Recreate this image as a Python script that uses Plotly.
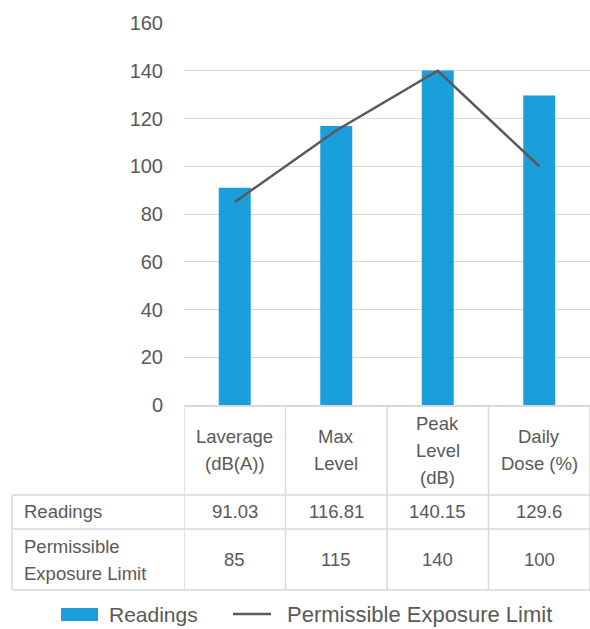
import plotly.graph_objects as go

# Noise survey: measured readings vs. permissible exposure limits
categories = ["Laverage<br>(dB(A))", "Max<br>Level", "Peak<br>Level<br>(dB)", "Daily<br>Dose (%)"]
readings = [91.03, 116.81, 140.15, 129.6]
limits = [85, 115, 140, 100]
readings_text = ["91.03", "116.81", "140.15", "129.6"]
limits_text = ["85", "115", "140", "100"]
series_names = ["Readings", "Permissible<br>Exposure Limit"]
y_ticks = [0, 20, 40, 60, 80, 100, 120, 140, 160]

W, H = 590, 629
L, R, T, B = 184, 0, 23, 224
PLOT_W = W - L - R
PLOT_H = H - T - B
BOTTOM = H - B

GREY = "#595959"
GRID = "#d9d9d9"
BLUE = "#1a9fda"
FONT = "Liberation Sans, Arial, sans-serif"


def px(p):
    """Pixel x -> paper x."""
    return (p - L) / PLOT_W


def py(p):
    """Pixel y -> paper y."""
    return (BOTTOM - p) / PLOT_H


x_idx = list(range(len(categories)))

fig = go.Figure()
fig.add_trace(go.Bar(
    x=x_idx, y=readings, name="Readings", width=0.315,
    marker=dict(color=BLUE, line=dict(width=0)), showlegend=False,
))
fig.add_trace(go.Scatter(
    x=x_idx, y=limits, name="Permissible Exposure Limit", mode="lines",
    line=dict(color=GREY, width=2.5), showlegend=False,
))

shapes = []
annotations = []

# data table grid
row_lines = [495, 529, 590]
for yl in row_lines:
    shapes.append(dict(type="line", xref="paper", yref="paper",
                       x0=px(12), x1=1.0, y0=py(yl), y1=py(yl),
                       line=dict(color=GRID, width=1.5)))
for i in range(len(categories) + 1):
    shapes.append(dict(type="line", xref="x", yref="paper",
                       x0=i - 0.5, x1=i - 0.5, y0=0, y1=py(590),
                       line=dict(color=GRID, width=1.5)))
shapes.append(dict(type="line", xref="paper", yref="paper",
                   x0=px(12), x1=px(12), y0=py(495), y1=py(590),
                   line=dict(color=GRID, width=1.5)))

LINE_GAP = 27
TABLE_FONT = dict(family=FONT, size=18.5, color=GREY)

# column headers
for i, cat in enumerate(categories):
    parts = cat.split("<br>")
    n = len(parts)
    for k, part in enumerate(parts):
        yc = 450 + (k - (n - 1) / 2) * LINE_GAP
        annotations.append(dict(xref="x", yref="paper", x=i, y=py(yc),
                                text=part, showarrow=False, xanchor="center",
                                yanchor="middle", font=TABLE_FONT))

# row labels
row_centers = [512, 559.5]
for name, yc in zip(series_names, row_centers):
    parts = name.split("<br>")
    n = len(parts)
    for k, part in enumerate(parts):
        yy = yc + (k - (n - 1) / 2) * LINE_GAP
        annotations.append(dict(xref="paper", yref="paper", x=px(22), y=py(yy),
                                text=part, showarrow=False, xanchor="left",
                                yanchor="middle", font=TABLE_FONT))

# row values
for values, yc in zip([readings_text, limits_text], row_centers):
    for i, v in enumerate(values):
        annotations.append(dict(xref="x", yref="paper", x=i, y=py(yc),
                                text=v, showarrow=False, xanchor="center",
                                yanchor="middle", font=TABLE_FONT))

# legend
LEG_Y = 614
LEG_FONT = dict(family=FONT, size=21, color=GREY)
shapes.append(dict(type="rect", xref="paper", yref="paper",
                   x0=px(61), x1=px(98), y0=py(LEG_Y + 7), y1=py(LEG_Y - 6),
                   fillcolor=BLUE, line=dict(width=0)))
annotations.append(dict(xref="paper", yref="paper", x=px(107), y=py(LEG_Y),
                        text="Readings", showarrow=False, xanchor="left",
                        yanchor="middle", font=LEG_FONT))
shapes.append(dict(type="line", xref="paper", yref="paper",
                   x0=px(233), x1=px(271), y0=py(LEG_Y), y1=py(LEG_Y),
                   line=dict(color=GREY, width=2.5)))
annotations.append(dict(xref="paper", yref="paper", x=px(285), y=py(LEG_Y),
                        text="Permissible Exposure Limit", showarrow=False,
                        xanchor="left", yanchor="middle",
                        font=dict(family=FONT, size=22, color=GREY)))

fig.update_layout(
    width=W, height=H,
    margin=dict(l=L, r=R, t=T, b=B, pad=0),
    paper_bgcolor="white", plot_bgcolor="white",
    font=dict(family=FONT, color=GREY),
    bargap=0.685,
    shapes=shapes, annotations=annotations,
    xaxis=dict(range=[-0.5, len(categories) - 0.5], showticklabels=False,
               showgrid=False, zeroline=False, showline=True,
               linecolor=GRID, linewidth=1.5, ticks="", fixedrange=True),
    yaxis=dict(range=[0, 160], tickvals=y_ticks,
               tickfont=dict(family=FONT, size=20, color=GREY),
               showgrid=True, gridcolor=GRID, gridwidth=1.2,
               zeroline=False, showline=False, ticks="",
               ticklabelstandoff=20, fixedrange=True),
)

fig.write_html("out.html")
